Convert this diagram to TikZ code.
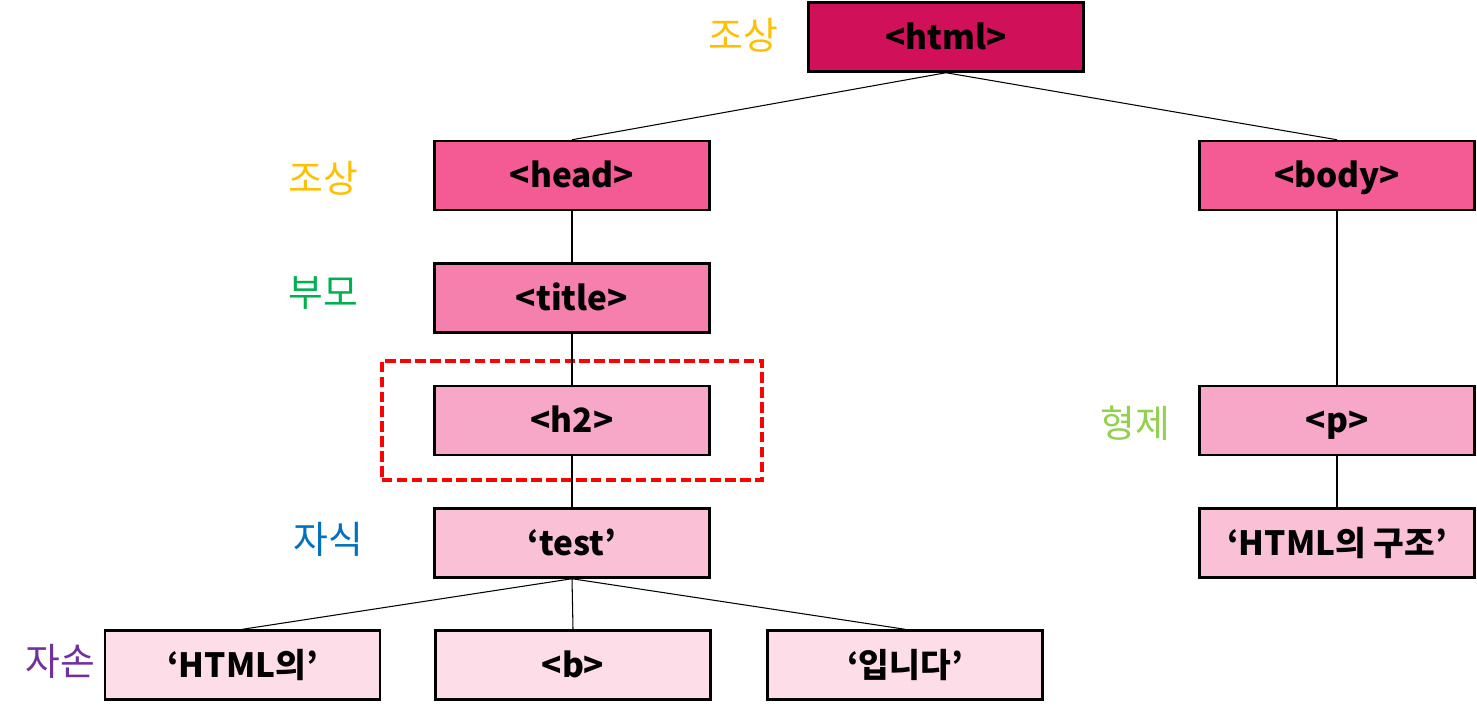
\documentclass[tikz,border=0pt]{standalone}
\usepackage{fontspec}
\setmainfont{Noto Sans CJK KR}
\usepackage{xcolor}
\definecolor{dompink1}{RGB}{208,16,88}
\definecolor{dompink2}{RGB}{244,91,149}
\definecolor{dompink3}{RGB}{245,128,173}
\definecolor{dompink4}{RGB}{247,168,200}
\definecolor{dompink5}{RGB}{249,192,214}
\definecolor{dompink6}{RGB}{252,221,232}
\definecolor{relgold}{RGB}{255,192,0}
\definecolor{relgreen}{RGB}{0,176,80}
\definecolor{rellime}{RGB}{146,208,80}
\definecolor{relblue}{RGB}{0,112,192}
\definecolor{relpurple}{RGB}{112,48,160}
\usetikzlibrary{positioning,fit,calc}

\begin{document}
\begin{tikzpicture}[
  every node/.style={font=\fontsize{18}{20}\selectfont},
  tagbox/.style={draw,line width=1.4pt,minimum width=5.5cm,minimum height=1.38cm,
                 align=center,inner sep=2pt,text height=14pt,text depth=0pt,
                 font=\fontsize{19}{21}\selectfont\bfseries},
  rellabel/.style={font=\fontsize{21.5}{23}\selectfont},
  link/.style={line width=0.6pt,black},
  focus/.style={draw=red,line width=2.4pt,dash pattern=on 6pt off 2.5pt,
                inner xsep=1.03cm,inner ysep=0.48cm},
]
  \useasboundingbox (0,0) rectangle (29.54,14.22);

  % root
  \node[tagbox,fill=dompink1] (html) at (18.92,13.48) {<html>};

  % head branch
  \node[tagbox,fill=dompink2] (head)  at (11.44,10.71) {<head>};
  \node[tagbox,fill=dompink3] (title) at (11.44,8.26)  {<title>};
  \node[tagbox,fill=dompink4] (h2)    at (11.44,5.81)  {<h2>};
  \node[tagbox,fill=dompink5] (test)  at (11.44,3.36)  {‘test’};

  % text children
  \node[tagbox,fill=dompink6] (htmlui) at (4.85,0.92)  {‘HTML의’};
  \node[tagbox,fill=dompink6] (bold)   at (11.46,0.92) {<b>};
  \node[tagbox,fill=dompink6] (ipnida) at (18.10,0.92) {‘입니다’};

  % body branch
  \node[tagbox,fill=dompink2] (body) at (26.74,10.71) {<body>};
  \node[tagbox,fill=dompink4] (para) at (26.74,5.81)  {<p>};
  \node[tagbox,fill=dompink5] (gujo) at (26.74,3.36)  {‘HTML의 구조’};

  % selected element
  \node[focus,fit=(h2)] (sel) {};

  % relation labels
  \node[rellabel,text=relgold]   (anc1) at (14.86,13.52) {조상};
  \node[rellabel,text=relgold]   (anc2) at (6.46,10.66)  {조상};
  \node[rellabel,text=relgreen]  (par)  at (6.46,8.36)   {부모};
  \node[rellabel,text=rellime]   (sib)  at (22.70,5.76)  {형제};
  \node[rellabel,text=relblue]   (chi)  at (6.56,3.44)   {자식};
  \node[rellabel,text=relpurple] (des)  at (1.20,1.00)   {자손};

  % tree edges
  \draw[link] (html.south) -- (head.north);
  \draw[link] (html.south) -- (body.north);
  \draw[link] (head) -- (title);
  \draw[link] (title) -- (h2);
  \draw[link] (h2) -- (test);
  \draw[link] (test.south) -- (htmlui.north);
  \draw[link] (test.south) -- (bold.north);
  \draw[link] (test.south) -- (ipnida.north);
  \draw[link] (body) -- (para);
  \draw[link] (para) -- (gujo);
\end{tikzpicture}
\end{document}
